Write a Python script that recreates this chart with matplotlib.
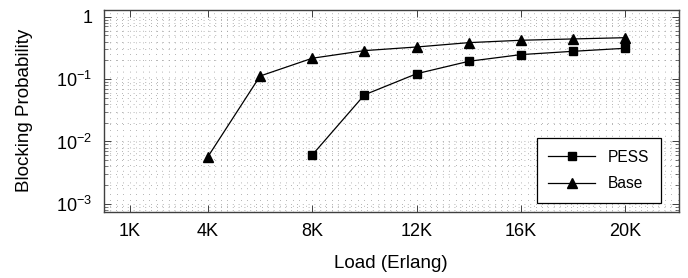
import matplotlib
matplotlib.use("Agg")
import matplotlib.pyplot as plt
from matplotlib.ticker import MultipleLocator, LogLocator, NullFormatter

plt.rcParams['font.family'] = ['Liberation Sans', 'DejaVu Sans']
plt.rcParams['mathtext.fontset'] = 'custom'
plt.rcParams['mathtext.rm'] = 'Liberation Sans'
plt.rcParams['mathtext.it'] = 'Liberation Sans:italic'

pess_load = [8000, 10000, 12000, 14000, 16000, 18000, 20000]
pess_block = [0.0061, 0.056, 0.122, 0.193, 0.247, 0.279, 0.312]
base_load = [4000, 6000, 8000, 10000, 12000, 14000, 16000, 18000, 20000]
base_block = [0.0057, 0.112, 0.216, 0.286, 0.327, 0.384, 0.419, 0.44, 0.461]

x_ticks = [1000, 4000, 8000, 12000, 16000, 20000]
x_labels = ['1K', '4K', '8K', '12K', '16K', '20K']
y_ticks = [1e-3, 1e-2, 1e-1, 1]
y_labels = [r'$10^{-3}$', r'$10^{-2}$', r'$10^{-1}$', '1']

fig = plt.figure(figsize=(6.88, 2.78), dpi=100)
ax = fig.add_axes([103.5/688, 1 - 211.7/278, (679 - 103.5)/688, (211.7 - 10)/278])

ax.plot(pess_load, pess_block, color='black', lw=0.9, marker='s', ms=6.2, label='PESS', zorder=3)
ax.plot(base_load, base_block, color='black', lw=0.9, marker='^', ms=7.5, label='Base', zorder=3)

ax.set_yscale('log')
ax.set_xlim(0, 22050)
ax.set_ylim(7.5e-4, 1.28)

ax.set_xticks(x_ticks)
ax.set_xticklabels(x_labels)
ax.xaxis.set_minor_locator(MultipleLocator(250))
ax.set_yticks(y_ticks)
ax.set_yticklabels(y_labels)
ax.yaxis.set_minor_locator(LogLocator(base=10, subs=range(2, 10), numticks=20))
ax.yaxis.set_minor_formatter(NullFormatter())

ax.grid(True, which='both', linestyle=(0, (1, 6)), color='#9a9a9a', linewidth=0.6)
ax.set_axisbelow(True)

ax.tick_params(which='major', direction='in', length=5, width=0.7, color='#404040',
               top=True, right=True, labelsize=13)
ax.tick_params(which='minor', direction='in', length=3, width=0.5, color='#404040',
               top=False, bottom=False, left=True, right=True)
ax.tick_params(axis='x', which='major', pad=8)
ax.tick_params(axis='y', which='major', pad=8)
for s in ax.spines.values():
    s.set_color('#404040')
    s.set_linewidth(1.0)

ax.set_xlabel('Load (Erlang)', fontsize=13.5, labelpad=11)
ax.set_ylabel('Blocking Probability', fontsize=13.5, labelpad=17)

leg = ax.legend(loc='lower right', bbox_to_anchor=(0.968, 0.043), borderaxespad=0,
                fontsize=11.2, fancybox=False, edgecolor='black', framealpha=1,
                handlelength=3.0, borderpad=0.75, labelspacing=0.75)
leg.get_frame().set_linewidth(0.9)

fig.savefig('out.png', dpi=100)
